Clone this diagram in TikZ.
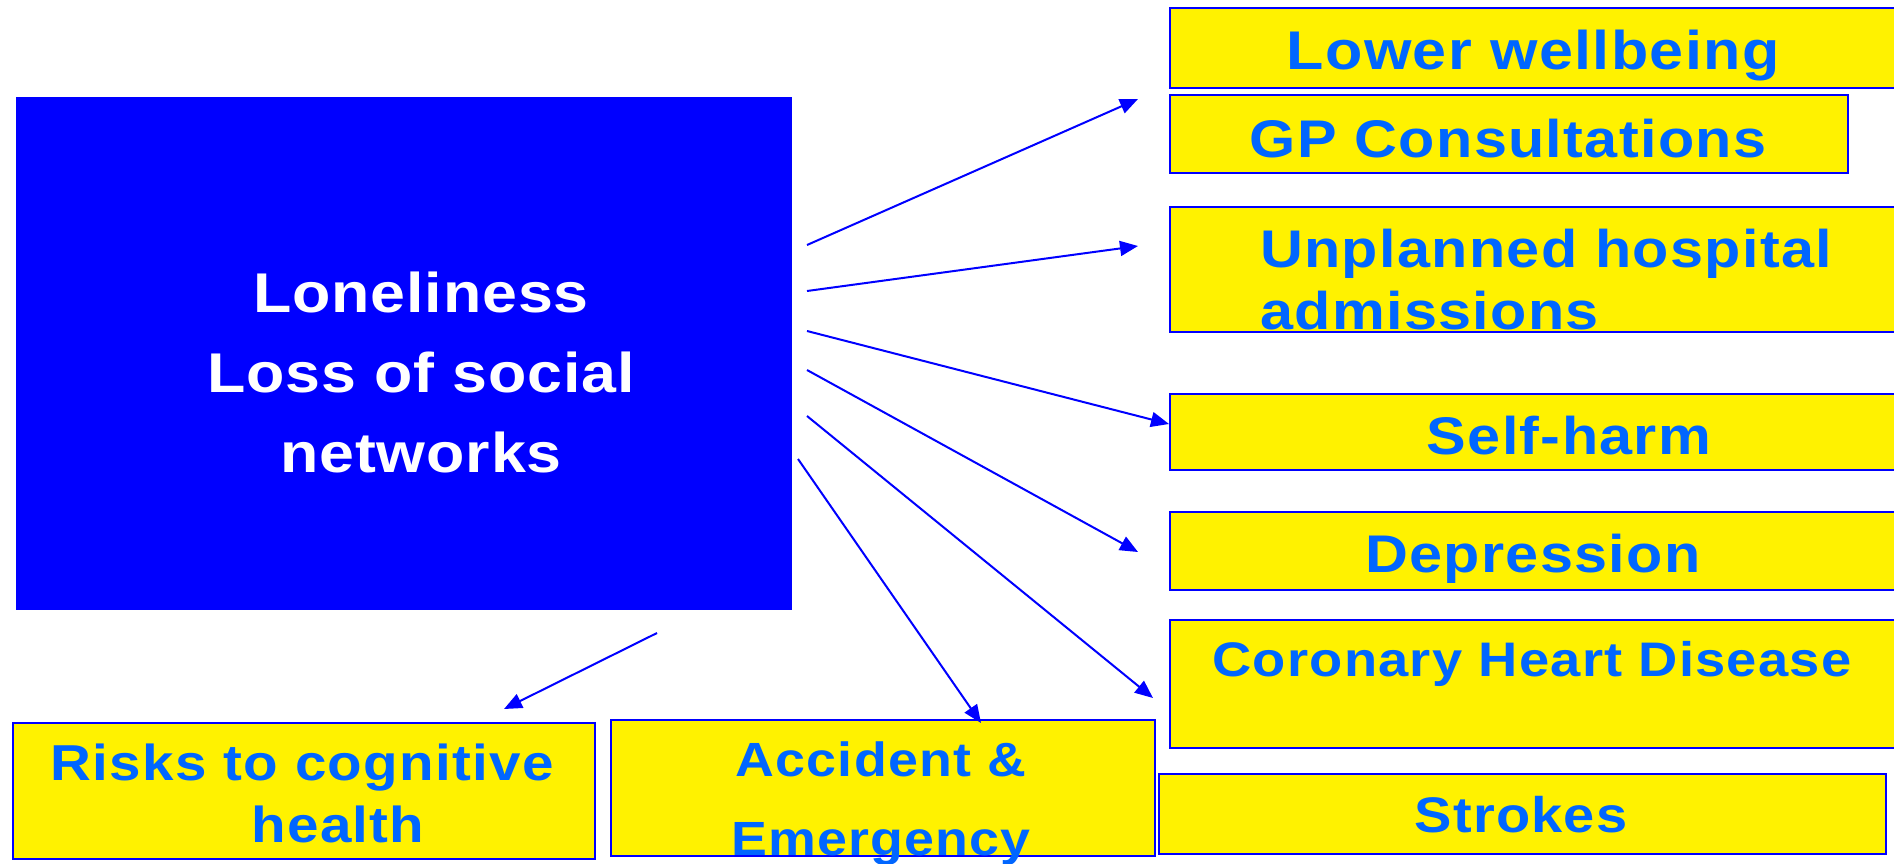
\documentclass[tikz,border=0pt]{standalone}
\usepackage{fontspec}
\setmainfont{Liberation Sans}
\newfontfamily\effectfont[FakeStretch=1.12, LetterSpace=2.5]{Liberation Sans Bold}
\newfontfamily\causefont[FakeStretch=1.12, LetterSpace=1.5]{Liberation Sans Bold}
\usetikzlibrary{arrows.meta}

\definecolor{linkblue}{RGB}{0,0,255}
\definecolor{wordblue}{RGB}{0,102,255}

\begin{document}
\begin{tikzpicture}[x=1pt, y=-1pt,
	effect/.style={draw=linkblue, line width=2pt, fill=yellow, inner sep=0pt, anchor=north west},
	efftext/.style={text=wordblue, inner sep=0pt, font=\effectfont\fontsize{#1}{62}\selectfont},
	efftext/.default=53,
	link/.style={draw=linkblue, line width=2pt, -{Triangle[length=18pt,width=15pt]}}]
	\useasboundingbox (0,0) rectangle (1894,863);
	% cause
	\node [fill=linkblue, minimum width=776pt, minimum height=513pt, anchor=north west, inner sep=0pt] (lonely) at (16,97) {};
	\node [text=white, align=center, anchor=base, inner sep=0pt, font=\causefont\fontsize{56}{80}\selectfont] (lonelytext) at (421,472) {Loneliness\\Loss of social\\networks};
	% effects, right column
	\node [effect, minimum width=728pt, minimum height=80pt] (wellbeing) at (1169,7) {};
	\node [effect, minimum width=678pt, minimum height=78pt] (gp) at (1169,94) {};
	\node [effect, minimum width=728pt, minimum height=125pt] (hospital) at (1169,206) {};
	\node [effect, minimum width=728pt, minimum height=76pt] (selfharm) at (1169,393) {};
	\node [effect, minimum width=728pt, minimum height=78pt] (depression) at (1169,511) {};
	\node [effect, minimum width=728pt, minimum height=128pt] (chd) at (1169,619) {};
	\node [effect, minimum width=727pt, minimum height=80pt] (strokes) at (1158,773) {};
	% effects, bottom row
	\node [effect, minimum width=582pt, minimum height=136pt] (cognitive) at (12,722) {};
	\node [effect, minimum width=544pt, minimum height=136pt] (ae) at (610,719) {};
	% labels (multi-line ones sit on their last baseline)
	\node [efftext=54.5, anchor=base] (wellbeingtext) at (1533,69) {Lower wellbeing};
	\node [efftext, anchor=base] (gptext) at (1508,157) {GP Consultations};
	\node [efftext, anchor=base west, align=left] (hospitaltext) at (1260,329) {Unplanned hospital\\admissions};
	\node [efftext, anchor=base] (selfharmtext) at (1569,454) {Self-harm};
	\node [efftext, anchor=base] (depressiontext) at (1533,572) {Depression};
	\node [efftext=48.5, anchor=base] (chdtext) at (1532,676) {Coronary Heart Disease};
	\node [efftext=50, anchor=base] (strokestext) at (1521,832) {Strokes};
	\node [efftext=50.5, anchor=base, align=center] (cognitivetext) at (302,842) {Risks to cognitive\\\hspace*{72pt}health};
	\node [efftext=48, anchor=base, align=center] (aetext) at (881,855) {Accident \&\\[17pt]Emergency};
	% arrows out of the cause box
	\coordinate (out1) at (807,245);
	\coordinate (out2) at (807,291);
	\coordinate (out3) at (807,331);
	\coordinate (out4) at (807,370);
	\coordinate (out5) at (807,416);
	\coordinate (out6) at (798,459);
	\coordinate (out7) at (657,633);
	\coordinate (in1) at (1138,99);
	\coordinate (in2) at (1138,246);
	\coordinate (in4) at (1138,552);
	\coordinate (in5) at (1153,698);
	\coordinate (in6) at (981,723);
	\coordinate (in7) at (504,709);
	\draw [link] (out1) -- (in1);
	\draw [link] (out2) -- (in2);
	\draw [link] (out3) -- (selfharm.west |- 0,424);
	\draw [link] (out4) -- (in4);
	\draw [link] (out5) -- (in5);
	\draw [link] (out6) -- (in6);
	\draw [link] (out7) -- (in7);
\end{tikzpicture}
\end{document}
